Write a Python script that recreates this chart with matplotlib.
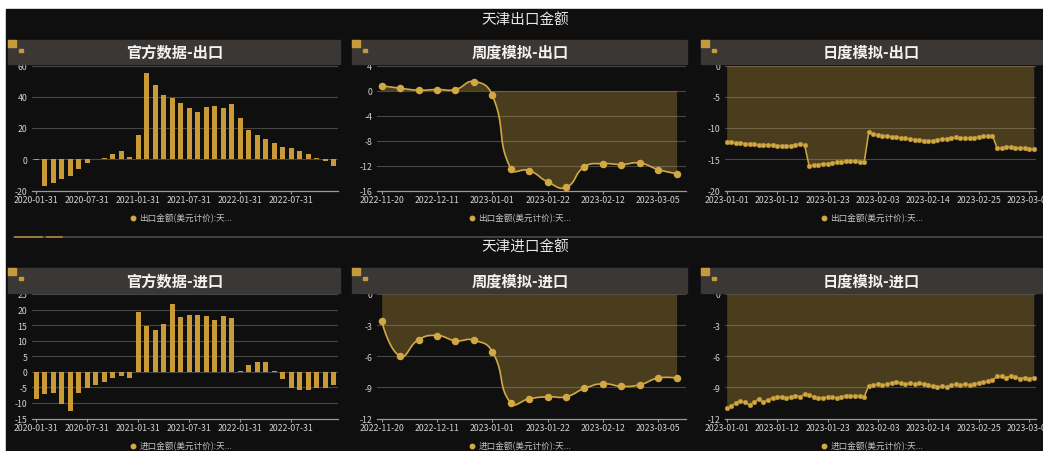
import numpy as np
import pandas as pd
import matplotlib
matplotlib.use('Agg')
import matplotlib.pyplot as plt
from matplotlib.lines import Line2D
from matplotlib.patches import Rectangle

plt.rcParams['font.family'] = ['Noto Sans CJK SC', 'DejaVu Sans']
plt.rcParams['axes.unicode_minus'] = False

# ---- data ----
months = pd.date_range('2020-01-31', periods=36, freq='ME').strftime('%Y-%m-%d').tolist()
export_official = [-0.5, -17.3, -15.2, -12.6, -10.9, -6.4, -2.6, 0.0, 1.0, 3.2, 5.1, 1.3,
                   15.8, 55.5, 47.6, 41.2, 39.5, 36.1, 32.5, 30.3, 33.3, 34.2, 32.9, 35.3,
                   26.7, 18.6, 15.6, 13.2, 10.7, 7.9, 7.3, 5.6, 3.6, 0.9, -1.1, -4.5]
import_official = [-8.7, -7.1, -6.7, -10.2, -12.5, -6.7, -5.3, -4.1, -3.2, -2.0, -1.2, -2.1,
                   19.3, 14.8, 13.4, 15.4, 21.7, 17.5, 18.2, 18.4, 17.9, 16.8, 17.9, 17.3,
                   0.4, 2.3, 3.3, 3.3, 0.2, -2.3, -5.2, -5.9, -6.0, -5.1, -5.3, -4.3]

weeks = pd.date_range('2022-11-20', periods=17, freq='7D').strftime('%Y-%m-%d').tolist()
weekly_export = [0.75, 0.37, 0.05, 0.16, 0.16, 1.44, -0.75, -12.5, -12.8, -14.6, -15.5,
                 -12.2, -11.7, -11.85, -11.6, -12.65, -13.3]
weekly_import = [-2.6, -6.0, -4.4, -4.0, -4.5, -4.45, -5.55, -10.5, -10.1, -9.9, -9.9,
                 -9.1, -8.65, -8.9, -8.75, -8.1, -8.1]

days = pd.date_range('2023-01-01', periods=68, freq='D').strftime('%Y-%m-%d').tolist()
daily_export = [-12.2, -12.3, -12.35, -12.4, -12.5, -12.55, -12.6, -12.7, -12.65, -12.7,
                -12.75, -12.8, -12.85, -12.9, -12.8, -12.65, -12.6, -12.7,
                -16.1, -15.95, -15.85, -15.75, -15.7, -15.6, -15.5, -15.45, -15.35, -15.3,
                -15.25, -15.4, -15.5,
                -10.7, -11.0, -11.1, -11.2, -11.3, -11.4, -11.5, -11.55, -11.65, -11.75,
                -11.85, -11.95, -12.0, -12.1, -12.0, -11.9, -11.8, -11.7, -11.6, -11.5,
                -11.55, -11.6, -11.65, -11.55, -11.45, -11.35, -11.3, -11.2,
                -13.2, -13.25, -13.1, -13.05, -13.15, -13.2, -13.2, -13.3, -13.4]
daily_import = [-11.0, -10.8, -10.5, -10.3, -10.45, -10.7, -10.4, -10.1, -10.45, -10.2,
                -10.0, -9.9, -9.9, -10.0, -9.9, -9.8, -9.9, -9.65, -9.75, -9.9, -10.0,
                -10.0, -9.95, -9.95, -10.0, -9.95, -9.8, -9.8, -9.8, -9.85, -9.9,
                -8.85, -8.8, -8.7, -8.8, -8.7, -8.55, -8.45, -8.6, -8.7, -8.6, -8.65,
                -8.6, -8.7, -8.8, -8.9, -9.0, -8.9, -8.95, -8.8, -8.7, -8.8, -8.7, -8.8,
                -8.65, -8.6, -8.5, -8.4, -8.3, -7.95, -7.95, -8.05, -7.9, -8.0, -8.15,
                -8.05, -8.15, -8.05]

titles = ['天津出口金额', '天津进口金额']
panel_titles = [['官方数据-出口', '周度模拟-出口', '日度模拟-出口'],
                ['官方数据-进口', '周度模拟-进口', '日度模拟-进口']]
legend_labels = ['出口金额(美元计价):天...', '进口金额(美元计价):天...']

# ---- style ----
W, H = 1043, 452
BG = '#0f0f0f'
HEADER = '#3a3734'
GOLD = '#d2a845'
BAR = '#c99a35'
GRID = '#474747'
AXIS = '#9a9a9a'
TXT = '#d2d2d2'


def box(x0, x1, y0, y1):
    return [x0 / W, 1 - y1 / H, (x1 - x0) / W, (y1 - y0) / H]


def smooth(x, y, sx, sy, k=0.5, n=24):
    p = np.column_stack([np.asarray(x, float) * sx, np.asarray(y, float) * sy])
    m = len(p)
    cp_prev = p.copy()
    cp_next = p.copy()
    for i in range(1, m - 1):
        v = (p[i + 1] - p[i - 1]) * k
        d0 = np.hypot(*(p[i] - p[i - 1]))
        d1 = np.hypot(*(p[i + 1] - p[i]))
        tot = d0 + d1
        cp_prev[i] = p[i] - v * d0 / tot
        cp_next[i] = p[i] + v * d1 / tot
    t = np.linspace(0, 1, n)[:, None]
    segs = []
    for i in range(m - 1):
        a, b, c, d = p[i], cp_next[i], cp_prev[i + 1], p[i + 1]
        seg = (1 - t) ** 3 * a + 3 * (1 - t) ** 2 * t * b + 3 * (1 - t) * t ** 2 * c + t ** 3 * d
        segs.append(seg if i == 0 else seg[1:])
    s = np.vstack(segs)
    return s[:, 0] / sx, s[:, 1] / sy


def style(ax, ylim, ystep, xlim, xticks, xlabels):
    ax.set_facecolor('none')
    ax.set_xlim(xlim)
    ax.set_ylim(ylim)
    yt = np.arange(ylim[0], ylim[1] + 0.01, ystep)
    ax.set_yticks(yt)
    for v in yt[1:]:
        ax.axhline(v, color=GRID, lw=0.8, zorder=0.5)
    for s in ['top', 'right', 'left']:
        ax.spines[s].set_visible(False)
    ax.spines['bottom'].set_color(AXIS)
    ax.spines['bottom'].set_linewidth(0.9)
    ax.set_xticks(xticks)
    ax.set_xticklabels(xlabels)
    ax.tick_params(axis='y', length=0, pad=3.5, labelsize=6.3, labelcolor=TXT)
    ax.tick_params(axis='x', length=2.2, width=0.8, color=AXIS, pad=0.8,
                   labelsize=6.3, labelcolor=TXT)


def legend(ax, label, cx, cy):
    h = Line2D([], [], ls='none', marker='o', ms=3.2, color=GOLD)
    ax.legend([h], [label], loc='center', bbox_to_anchor=(cx / W, 1 - cy / H),
              bbox_transform=fig.transFigure, frameon=False, fontsize=6.2,
              labelcolor='#c4c4c4', handlelength=0.7, handletextpad=0.4, borderpad=0)


fig = plt.figure(figsize=(W / 100, H / 100), dpi=100, facecolor='white')
fig.add_artist(Rectangle((6 / W, 0), 1 - 6 / W, 1 - 10 / H, transform=fig.transFigure,
                         color=BG, zorder=0))

header_x = [(8, 340), (352, 687), (701, 1043)]
title_cx = [175, 520, 871]
legend_cx = [181, 520, 872]
axes_x = [(32, 338), (377, 686), (725, 1036)]
rows = [dict(title_y=20, head=(41, 65), ax=(66.5, 191.5), leg=219),
        dict(title_y=248, head=(269, 293.5), ax=(295, 419.5), leg=447)]

# separator between the two rows
fig.add_artist(Line2D([14 / W, 1], [1 - 238 / H] * 2, transform=fig.transFigure,
                      color='#4a4a4a', lw=1.2))
for a, b in [(15, 42), (47, 62)]:
    fig.add_artist(Line2D([a / W, b / W], [1 - 238 / H] * 2, transform=fig.transFigure,
                          color='#a8843a', lw=1.2))

bar_data = [export_official, import_official]
week_data = [weekly_export, weekly_import]
day_data = [daily_export, daily_import]
bar_ylim = [((-20, 60), 20), ((-15, 25), 5)]
week_ylim = [((-16, 4), 4), ((-12, 0), 3)]
day_ylim = [((-20, 0), 5), ((-12, 0), 3)]

for r, row in enumerate(rows):
    fig.text(525 / W, 1 - row['title_y'] / H, titles[r], ha='center', va='center',
             fontsize=10.5, color='#e8e8e8')
    hy0, hy1 = row['head']
    for c in range(3):
        x0, x1 = header_x[c]
        fig.add_artist(Rectangle((x0 / W, 1 - hy1 / H), (x1 - x0) / W, (hy1 - hy0) / H,
                                 transform=fig.transFigure, color=HEADER, zorder=1))
        fig.add_artist(Rectangle((x0 / W, 1 - (hy0 + 7) / H), 8 / W, 7 / H,
                                 transform=fig.transFigure, color='#c49a3c', zorder=2))
        fig.add_artist(Rectangle(((x0 + 11) / W, 1 - (hy0 + 12) / H), 4 / W, 3 / H,
                                 transform=fig.transFigure, color='#c49a3c', zorder=2))
        fig.text(title_cx[c] / W, 1 - (hy0 + hy1) / 2 / H, panel_titles[r][c],
                 ha='center', va='center', fontsize=11, fontweight='bold', color='#f2f2f2',
                 zorder=3)

    ay0, ay1 = row['ax']

    # monthly official bars
    ax = fig.add_axes(box(*axes_x[0], ay0, ay1))
    xb = np.arange(len(months))
    ax.bar(xb, bar_data[r], width=0.55, color=BAR, zorder=2)
    (ylim, step) = bar_ylim[r]
    style(ax, ylim, step, (-0.5, len(months) - 0.5), xb[::6], months[::6])
    legend(ax, legend_labels[r], legend_cx[0], row['leg'])

    # weekly simulation
    ax = fig.add_axes(box(*axes_x[1], ay0, ay1))
    xw = np.arange(len(weeks))
    (ylim, step) = week_ylim[r]
    xlim = (-0.255, 16.51)
    sx = (axes_x[1][1] - axes_x[1][0]) / (xlim[1] - xlim[0])
    sy = (ay1 - ay0) / (ylim[1] - ylim[0])
    xs, ys = smooth(xw, week_data[r], sx, sy)
    ax.fill_between(xs, ys, 0, color='#c9a03c', alpha=0.32, lw=0, zorder=1)
    ax.plot(xs, ys, color=GOLD, lw=1.2, zorder=3)
    ax.plot(xw, week_data[r], ls='none', marker='o', ms=4.4, color=GOLD, zorder=4)
    style(ax, ylim, step, xlim, xw[::3], weeks[::3])
    legend(ax, legend_labels[r], legend_cx[1], row['leg'])

    # daily simulation
    ax = fig.add_axes(box(*axes_x[2], ay0, ay1))
    xd = np.arange(len(days))
    (ylim, step) = day_ylim[r]
    ax.fill_between(xd, day_data[r], 0, color='#c9a03c', alpha=0.32, lw=0, zorder=1)
    ax.plot(xd, day_data[r], color=GOLD, lw=1.1, marker='o', ms=3.4, mec='#a8852f',
            mew=0.4, zorder=3)
    style(ax, ylim, step, (-0.37, 67.5), xd[::11], days[::11])
    legend(ax, legend_labels[r], legend_cx[2], row['leg'])

fig.savefig('out.png', dpi=100, facecolor=fig.get_facecolor())
